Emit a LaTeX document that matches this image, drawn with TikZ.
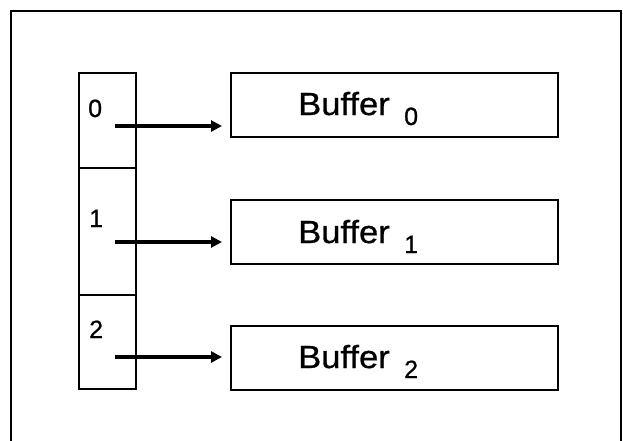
\documentclass[tikz,border=0pt]{standalone}
\usepackage{fontspec}
\setmainfont{Liberation Sans}
\newfontfamily\labelfont[FakeBold=0.8]{Liberation Sans}
\usetikzlibrary{arrows.meta}
\begin{document}
\begin{tikzpicture}[x=1pt,y=-1pt,
  cell/.style={draw, line width=1.8pt, minimum width=57pt, inner sep=0pt},
  bufbox/.style={draw, line width=1.8pt, minimum width=327pt, minimum height=64pt, inner sep=0pt},
  idx/.style={font=\labelfont\fontsize{25}{25}\selectfont, inner sep=0pt, anchor=base west},
  ptr/.style={line width=3.5pt, -{Triangle[length=11pt,width=11pt]}},
  frame/.style={line width=2.5pt}]
  \useasboundingbox (0,0) rectangle (623,441);
  % outer frame, open at the bottom
  \draw[frame] (11,441) -- (11,11) -- (621,11) -- (621,441);
  % index table
  \node[cell, minimum height=95pt, anchor=north west] (c0) at (78,72) {};
  \node[cell, minimum height=127pt, anchor=north west] (c1) at (78,167) {};
  \node[cell, minimum height=94pt, anchor=north west] (c2) at (78,294) {};
  \node[idx] (n0) at (88,117) {0};
  \node[idx] (n1) at (89,227) {1};
  \node[idx] (n2) at (89,338) {2};
  % buffers
  \node[bufbox, anchor=north west] (b0) at (230,72) {};
  \node[bufbox, anchor=north west] (b1) at (230,199) {};
  \node[bufbox, anchor=north west] (b2) at (230,325) {};
  \foreach \i/\y in {0/115,1/243,2/368}{
    \node[inner sep=0pt, anchor=base west] (t\i) at (298,\y)
      {\scalebox{1.08}[1]{\labelfont\fontsize{32}{32}\selectfont Buffer}};
    \node[inner sep=0pt, anchor=base west] (s\i) at (404,\y+10)
      {\labelfont\fontsize{25}{25}\selectfont \i};
  }
  % pointers from the table entries to their buffers
  \coordinate (p0) at (115,126);
  \coordinate (p1) at (115,242);
  \coordinate (p2) at (115,357);
  \draw[ptr] (p0) -- ([xshift=-8pt]p0 -| b0.west);
  \draw[ptr] (p1) -- ([xshift=-8pt]p1 -| b1.west);
  \draw[ptr] (p2) -- ([xshift=-8pt]p2 -| b2.west);
\end{tikzpicture}
\end{document}
